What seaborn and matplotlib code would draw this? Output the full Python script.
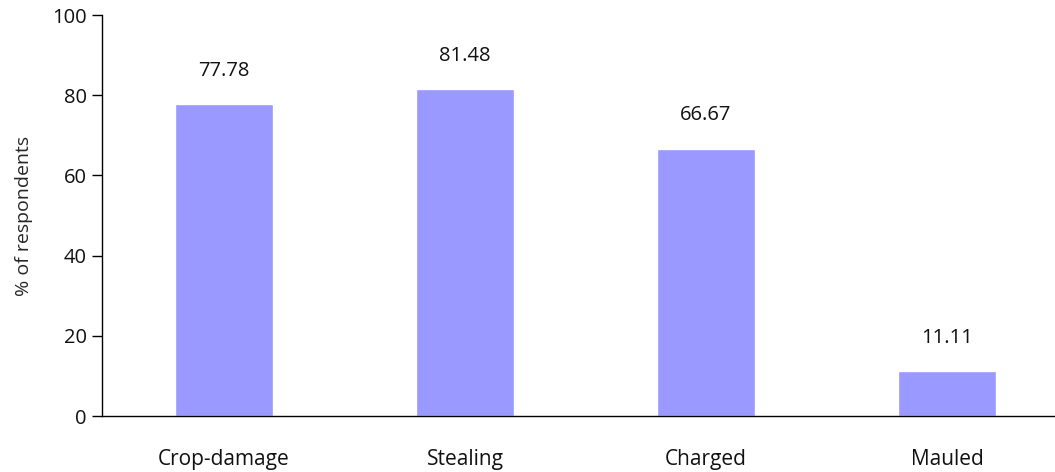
import matplotlib
matplotlib.use("Agg")
import matplotlib.pyplot as plt
import seaborn as sns
import pandas as pd

categories = ["Crop-damage", "Stealing", "Charged", "Mauled"]
percent = [77.78, 81.48, 66.67, 11.11]
y_ticks = [0, 20, 40, 60, 80, 100]

sns.set_style("white")
plt.rcParams["font.family"] = ["Open Sans", "DejaVu Sans"]

df = pd.DataFrame({"category": categories, "percent": percent})

fig = plt.figure(figsize=(10.55, 4.72), dpi=100)
ax = fig.add_axes([0.0967, 0.1186, 0.9033, 0.8496])

sns.barplot(data=df, x="category", y="percent", color="#9999FF",
            saturation=1, width=0.41, ax=ax)

for i, v in enumerate(percent):
    ax.annotate(f"{v:.2f}", (i, v), xytext=(0, 17), textcoords="offset points",
                ha="center", va="bottom", fontsize=14.5, color="#111111")

ax.set_ylim(0, 100)
ax.set_xlim(-0.506, 3.448)
ax.set_yticks(y_ticks)
ax.set_xlabel("")
ax.set_ylabel("% of respondents", fontsize=14, labelpad=14)
ax.tick_params(axis="y", direction="out", length=7, width=1, color="black",
               labelsize=14.5, pad=4, left=True)
ax.tick_params(axis="x", length=0, labelsize=15, pad=24)
for lbl in ax.get_yticklabels() + ax.get_xticklabels():
    lbl.set_color("#111111")

for side in ["top", "right"]:
    ax.spines[side].set_visible(False)
for side in ["left", "bottom"]:
    ax.spines[side].set_color("black")
    ax.spines[side].set_linewidth(1)

fig.savefig("out.png", dpi=100)
